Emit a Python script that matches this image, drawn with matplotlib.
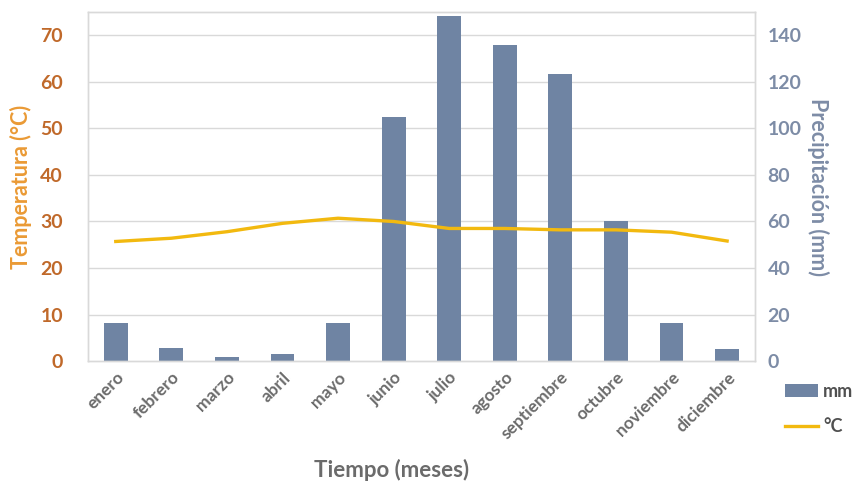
import matplotlib
matplotlib.use("Agg")
import matplotlib.pyplot as plt
import numpy as np

meses = ["enero", "febrero", "marzo", "abril", "mayo", "junio", "julio",
         "agosto", "septiembre", "octubre", "noviembre", "diciembre"]
precipitacion_mm = [16.5, 5.5, 1.7, 3.0, 16.5, 105, 148.5, 136, 123.5, 60, 16.5, 5.0]
temperatura_c = [25.7, 26.4, 27.8, 29.6, 30.7, 30.0, 28.5, 28.5, 28.2, 28.2, 27.7, 25.8]

temp_ticks = [0, 10, 20, 30, 40, 50, 60, 70]
prec_ticks = [0, 20, 40, 60, 80, 100, 120, 140]

plt.rcParams['font.family'] = ['Lato', 'DejaVu Sans']

c_bar = "#6f84a3"
c_line = "#f2b90f"
c_temp_tick = "#c0692a"
c_temp_lab = "#ea9a35"
c_prec = "#7d8ca6"
c_grid = "#d9d9d9"
c_text = "#6b6b6b"

fig = plt.figure(figsize=(8.65, 4.84), dpi=100)
ax2 = fig.add_axes([0.1017, 0.254, 0.771, 0.721])  # precipitation (right)
ax = ax2.twinx()
# temperature axis on the left, precipitation on the right
ax.yaxis.tick_left()
ax.yaxis.set_label_position("left")
ax2.yaxis.tick_right()
ax2.yaxis.set_label_position("right")

x = np.arange(len(meses))
ax2.bar(x, precipitacion_mm, width=0.43, color=c_bar, zorder=2, label="mm")
ax.plot(x, temperatura_c, color=c_line, lw=2.4, zorder=3, label="°C")

ax.set_ylim(0, 75)
ax2.set_ylim(0, 150)
ax2.set_xlim(-0.5, len(meses) - 0.5)

ax.set_yticks(temp_ticks)
ax2.set_yticks(prec_ticks)
for t in temp_ticks[1:]:
    ax2.axhline(t * 2, color=c_grid, lw=1, zorder=0)

for a in (ax, ax2):
    for s in a.spines.values():
        s.set_color(c_grid)
        s.set_linewidth(1)
    a.tick_params(length=0)

ax.tick_params(axis="y", labelcolor=c_temp_tick, labelsize=14, pad=18)
for lbl in ax.get_yticklabels():
    lbl.set_fontweight("bold")
ax2.tick_params(axis="y", labelcolor=c_prec, labelsize=14, pad=9)
for lbl in ax2.get_yticklabels():
    lbl.set_fontweight("bold")

ax2.set_xticks(x)
ax2.set_xticklabels(meses, rotation=45, ha="right", rotation_mode="anchor",
                    color=c_text, fontsize=12.5, fontweight="bold")
ax2.tick_params(axis="x", pad=6)

ax.set_ylabel("Temperatura (°C)", color=c_temp_lab, fontsize=15.5,
              fontweight="bold", labelpad=6)
ax2.set_ylabel("Precipitación (mm)", color=c_prec, fontsize=15.5,
               fontweight="bold", rotation=270, labelpad=20)
fig.text(0.453, 0.028, "Tiempo (meses)", color=c_text, fontsize=16,
         fontweight="bold", ha="center", va="center")

h1, l1 = ax2.get_legend_handles_labels()
h2, l2 = ax.get_legend_handles_labels()
leg = fig.legend(h1 + h2, l1 + l2, loc="center left",
                 bbox_to_anchor=(0.908, 0.155), frameon=False, borderpad=0,
                 borderaxespad=0, fontsize=13, handlelength=1.8,
                 handletextpad=0.3, labelspacing=1.0)
for t in leg.get_texts():
    t.set_color("#505050")
    t.set_fontweight("bold")

fig.savefig("out.png", dpi=100)
